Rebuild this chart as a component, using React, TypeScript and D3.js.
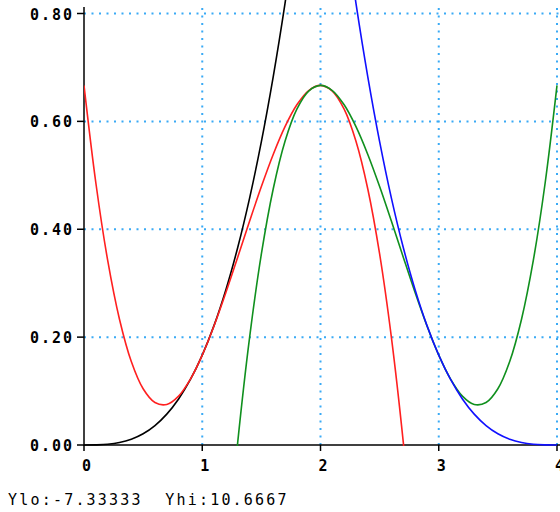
import React from "react";
import * as d3 from "d3";

// Curves (x, y samples)
const blackX = [0, 0.1, 0.2, 0.3, 0.4, 0.5, 0.6, 0.7, 0.8, 0.9, 1.0, 1.1, 1.2, 1.3, 1.4, 1.5, 1.6, 1.7, 1.8];
const blackY = [0, 0.0002, 0.0013, 0.0045, 0.0107, 0.0208, 0.036, 0.0572, 0.0853, 0.1215, 0.1667, 0.2218, 0.288, 0.3662, 0.4573, 0.5625, 0.6827, 0.8188, 0.972];

const redX = [0, 0.1, 0.2, 0.3, 0.4, 0.5, 0.6, 0.7, 0.8, 0.9, 1.0, 1.1, 1.2, 1.3, 1.4, 1.5, 1.6, 1.7, 1.8, 1.9, 2.0, 2.1, 2.2, 2.3, 2.4, 2.5, 2.6, 2.7, 2.8];
const redY = [0.6667, 0.4862, 0.3427, 0.2332, 0.1547, 0.1042, 0.0787, 0.0752, 0.0907, 0.1222, 0.1667, 0.2212, 0.2827, 0.3482, 0.4147, 0.4792, 0.5387, 0.5902, 0.6307, 0.6572, 0.6667, 0.6562, 0.6227, 0.5632, 0.4747, 0.3542, 0.1987, 0.0052, -0.2293];

const greenX = [1.2, 1.3, 1.4, 1.5, 1.6, 1.7, 1.8, 1.9, 2.0, 2.1, 2.2, 2.3, 2.4, 2.5, 2.6, 2.7, 2.8, 2.9, 3.0, 3.1, 3.2, 3.3, 3.4, 3.5, 3.6, 3.7, 3.8, 3.9, 4.0];
const greenY = [-0.2293, 0.0052, 0.1987, 0.3542, 0.4747, 0.5632, 0.6227, 0.6562, 0.6667, 0.6572, 0.6307, 0.5902, 0.5387, 0.4792, 0.4147, 0.3482, 0.2827, 0.2212, 0.1667, 0.1222, 0.0907, 0.0752, 0.0787, 0.1042, 0.1547, 0.2332, 0.3427, 0.4862, 0.6667];

const blueX = [2.2, 2.3, 2.4, 2.5, 2.6, 2.7, 2.8, 2.9, 3.0, 3.1, 3.2, 3.3, 3.4, 3.5, 3.6, 3.7, 3.8, 3.9, 4.0];
const blueY = [0.972, 0.8188, 0.6827, 0.5625, 0.4573, 0.3662, 0.288, 0.2218, 0.1667, 0.1215, 0.0853, 0.0572, 0.036, 0.0208, 0.0107, 0.0045, 0.0013, 0.0002, 0];

const xTicks = [0, 1, 2, 3, 4];
const yTicks = [0, 0.2, 0.4, 0.6, 0.8];
const footer = "Ylo:-7.33333  Yhi:10.6667";

const W = 560;
const H = 512;

export default function App() {
  const x = d3.scaleLinear().domain([0, 4]).range([84, 557]);
  const y = d3.scaleLinear().domain([0, 0.8]).range([445, 13.5]);
  const line = d3
    .line<[number, number]>()
    .x((d) => x(d[0]))
    .y((d) => y(d[1]))
    .curve(d3.curveCatmullRom);
  const pts = (xs: number[], ys: number[]) => xs.map((v, i) => [v, ys[i]] as [number, number]);
  const curves = [
    { d: pts(blackX, blackY), c: "#000000" },
    { d: pts(redX, redY), c: "#ff2020" },
    { d: pts(greenX, greenY), c: "#10901e" },
    { d: pts(blueX, blueY), c: "#1010ff" },
  ];
  const mono = "'DejaVu Sans Mono', monospace";
  return (
    <svg
      width={W}
      height={H}
      style={{ position: "absolute", left: 0, top: 0, background: "#fff" }}
    >
      <defs>
        <clipPath id="plot">
          <rect x={x(0)} y={0} width={x(4) - x(0) + 3} height={y(0) - 0 + 1} />
        </clipPath>
      </defs>
      {/* grid */}
      {yTicks.filter((t) => t > 0).map((t) => (
        <line
          key={"gy" + t}
          x1={x(0)}
          x2={W}
          y1={y(t)}
          y2={y(t)}
          stroke="#3aaaf5"
          strokeWidth={2}
          strokeDasharray="2 5.5"
        />
      ))}
      {xTicks.filter((t) => t > 0).map((t) => (
        <line
          key={"gx" + t}
          x1={x(t)}
          x2={x(t)}
          y1={y(0)}
          y2={7}
          stroke="#3aaaf5"
          strokeWidth={2}
          strokeDasharray="2 5.5"
        />
      ))}
      {/* axes */}
      <line x1={x(0)} x2={x(0)} y1={7} y2={y(0) + 1} stroke="#000" strokeWidth={1.5} />
      <line x1={x(0)} x2={W} y1={y(0)} y2={y(0)} stroke="#000" strokeWidth={1.5} />
      {yTicks.map((t) => (
        <g key={"ty" + t}>
          <line x1={x(0) - 7} x2={x(0)} y1={y(t)} y2={y(t)} stroke="#000" strokeWidth={1.5} />
          <text
            x={x(0) - 10}
            y={y(t) + 6}
            textAnchor="end"
            fontFamily={mono}
            fontSize={15}
            fontWeight="bold"
            letterSpacing={2}
            fill="#000"
          >
            {t.toFixed(2)}
          </text>
        </g>
      ))}
      {xTicks.map((t) => (
        <g key={"tx" + t}>
          <line x1={x(t)} x2={x(t)} y1={y(0)} y2={y(0) + 6} stroke="#000" strokeWidth={1.5} />
          <text
            x={x(t) - 2}
            y={471}
            textAnchor="start"
            fontFamily={mono}
            fontSize={15}
            fontWeight="bold"
            fill="#000"
          >
            {t}
          </text>
        </g>
      ))}
      {/* curves */}
      <g clipPath="url(#plot)">
        {curves.map((c, i) => (
          <path key={i} d={line(c.d) || ""} fill="none" stroke={c.c} strokeWidth={1.6} />
        ))}
      </g>
      <text
        x={8}
        y={505}
        fontFamily={mono}
        fontSize={15}
        letterSpacing={2.2}
        fill="#000"
        xmlSpace="preserve"
        style={{ whiteSpace: "pre" }}
      >
        {footer}
      </text>
    </svg>
  );
}
